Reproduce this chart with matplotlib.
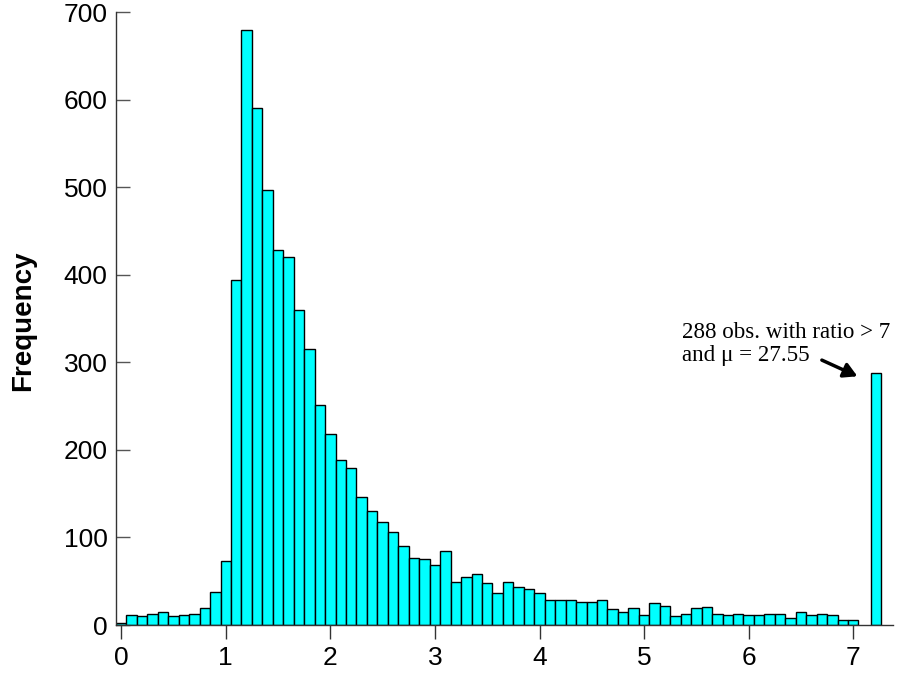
import matplotlib
matplotlib.use("Agg")
import matplotlib.pyplot as plt
import numpy as np

# bin centres 0.0 .. 7.0 in steps of 0.1, counts
bin_centers = np.round(np.arange(71) * 0.1, 1)
counts = [
    2, 11, 10, 13, 15, 10, 11, 13, 20, 38,
    73, 394, 680, 590, 497, 428, 420, 360, 315, 251,
    218, 188, 179, 146, 130, 118, 106, 90, 76, 75,
    68, 85, 49, 55, 58, 48, 37, 49, 43, 41,
    37, 28, 28, 29, 26, 26, 28, 18, 15, 19,
    12, 25, 22, 10, 13, 19, 21, 13, 11, 13,
    11, 11, 13, 13, 8, 15, 11, 13, 11, 6,
    6,
]
# observations with ratio > 7, lumped into one bar
overflow_pos = 7.22
overflow_count = 288
overflow_text = "288 obs. with ratio > 7\nand \u03bc = 27.55"

x_ticks = [0, 1, 2, 3, 4, 5, 6, 7]
y_ticks = [0, 100, 200, 300, 400, 500, 600, 700]

plt.rcParams["font.family"] = ["Liberation Sans", "DejaVu Sans"]

fig = plt.figure(figsize=(8.99, 6.86), dpi=100)
ax = fig.add_axes([0.129, 0.0889, 0.8643, 0.8936])

bar_style = dict(width=0.1, color="#00ffff", edgecolor="black", linewidth=1)
ax.bar(bin_centers, counts, **bar_style)
ax.bar([overflow_pos], [overflow_count], **bar_style)

ax.set_xlim(-0.05, 7.38)
ax.set_ylim(0, 700)
ax.set_xticks(x_ticks)
ax.set_yticks(y_ticks)

for side in ("top", "right"):
    ax.spines[side].set_visible(False)
for side in ("left", "bottom"):
    ax.spines[side].set_color("#333333")
    ax.spines[side].set_linewidth(1)

ax.tick_params(axis="x", direction="out", length=10, width=1, color="#333333",
               labelsize=19, pad=5)
ax.tick_params(axis="y", direction="in", length=10, width=1, color="#555555",
               labelsize=19, pad=6)

ax.set_ylabel("Frequency", fontsize=20, fontweight="bold")
ax.yaxis.set_label_coords(-0.103, 0.496)

ax.text(5.36, 346, overflow_text, ha="left", va="top", fontsize=16.6,
        family=["Liberation Serif", "DejaVu Serif"], linespacing=1.15)
ax.annotate("", xy=(7.04, 284), xytext=(6.70, 302.5),
            arrowprops=dict(arrowstyle="-|>,head_length=0.8,head_width=0.45",
                            color="black", lw=2.5, shrinkA=0, shrinkB=0))

fig.savefig("out.png", dpi=100)
